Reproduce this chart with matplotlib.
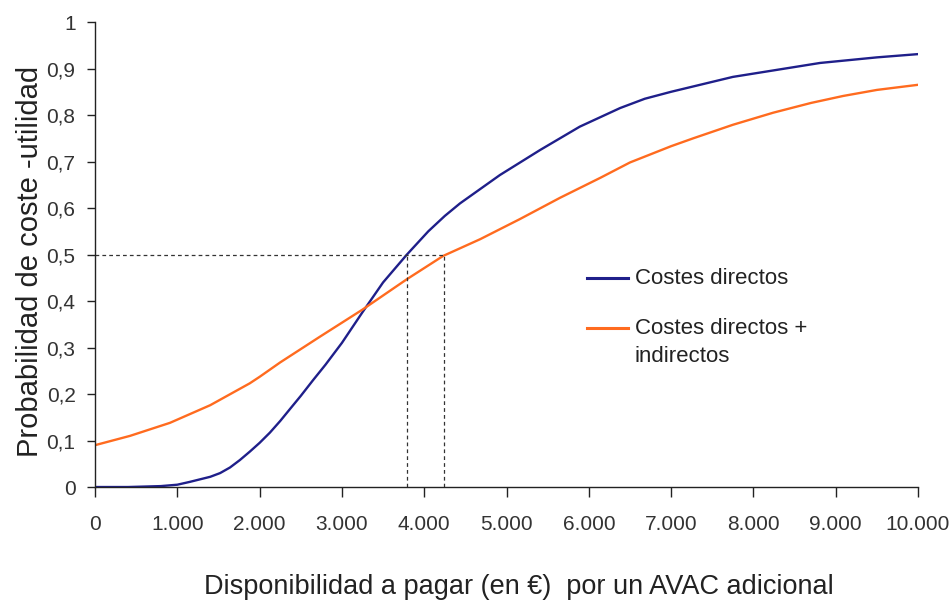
import matplotlib.pyplot as plt
from matplotlib.ticker import FuncFormatter

plt.rcParams['font.family'] = ['Liberation Sans', 'DejaVu Sans']

# Willingness to pay (EUR) and probability of being cost-effective
wtp_direct = [0, 400, 800, 1000, 1150, 1400, 1520, 1640, 1760, 1880, 2000, 2125, 2250,
              2370, 2500, 2650, 2800, 3000, 3250, 3500, 3790, 4050, 4250, 4435, 4920, 5410,
              5890, 6380, 6680, 7000, 7750, 8810, 9500, 10000]
prob_direct = [0.0, 0.0, 0.002, 0.005, 0.011, 0.022, 0.03, 0.042, 0.058, 0.076, 0.095, 0.117, 0.142,
               0.168, 0.196, 0.23, 0.263, 0.31, 0.376, 0.44, 0.50, 0.55, 0.583, 0.61, 0.671, 0.725,
               0.775, 0.815, 0.835, 0.85, 0.882, 0.912, 0.924, 0.931]

wtp_total = [0, 425, 910, 1400, 1880, 2000, 2250, 2730, 3245, 3790, 4230, 4680, 5160,
             5650, 6140, 6500, 7000, 7270, 7750, 8240, 8700, 9090, 9500, 10000]
prob_total = [0.09, 0.11, 0.138, 0.176, 0.223, 0.237, 0.268, 0.323, 0.381, 0.447, 0.497, 0.533, 0.576,
              0.622, 0.665, 0.698, 0.733, 0.75, 0.779, 0.805, 0.826, 0.841, 0.854, 0.865]

# thresholds where each curve reaches 0.5
thr_direct = 3790
thr_total = 4240
thr_prob = 0.5

labels = ['Costes directos', 'Costes directos +', 'indirectos']
colors = ['#1f1f8a', '#ff6b1f']

fig = plt.figure(figsize=(9.53, 6.12), dpi=100)
ax = fig.add_axes([0.0997, 0.2042, 0.8636, 0.7598])

ax.plot(wtp_direct, prob_direct, color=colors[0], lw=1.7)
ax.plot(wtp_total, prob_total, color=colors[1], lw=1.7)

# dashed guide lines at probability 0.5
dash = dict(color='#333333', lw=0.9, ls=(0, (3, 2.5)))
ax.plot([0, thr_total], [thr_prob, thr_prob], **dash)
ax.plot([thr_direct, thr_direct], [0, thr_prob], **dash)
ax.plot([thr_total, thr_total], [0, thr_prob], **dash)

ax.set_xlim(0, 10000)
ax.set_ylim(0, 1)
ax.set_xticks(range(0, 10001, 1000))
ax.set_yticks([i / 10 for i in range(11)])
ax.xaxis.set_major_formatter(FuncFormatter(lambda v, p: f'{int(v):,}'.replace(',', '.')))
ax.yaxis.set_major_formatter(FuncFormatter(lambda v, p: '0' if v == 0 else ('1' if v == 1 else f'{v:.1f}'.replace('.', ','))))

for s in ['top', 'right']:
    ax.spines[s].set_visible(False)
for s in ['left', 'bottom']:
    ax.spines[s].set_color('#222222')
    ax.spines[s].set_linewidth(1.0)

ax.tick_params(axis='x', length=7, width=1, color='#222222', pad=13, labelsize=15, labelcolor='#333333')
ax.tick_params(axis='y', length=6, width=1, color='#222222', pad=8, labelsize=15, labelcolor='#333333')

ax.set_xlabel('Disponibilidad a pagar (en €)  por un AVAC adicional', fontsize=19.5, color='#222222')
ax.xaxis.set_label_coords(0.515, -0.188)
ax.set_ylabel('Probabilidad de coste -utilidad', fontsize=21, color='#222222')
ax.yaxis.set_label_coords(-0.062, 0.486)

# legend drawn by hand so the orange key sits on the first text line
ax.plot([0.598, 0.648], [0.449, 0.449], transform=ax.transAxes, color=colors[0], lw=2.2)
ax.plot([0.598, 0.648], [0.342, 0.342], transform=ax.transAxes, color=colors[1], lw=2.2)
ax.text(0.656, 0.449, labels[0], transform=ax.transAxes, va='center', fontsize=16, color='#222222')
ax.text(0.656, 0.342, labels[1], transform=ax.transAxes, va='center', fontsize=16, color='#222222')
ax.text(0.656, 0.281, labels[2], transform=ax.transAxes, va='center', fontsize=16, color='#222222')

fig.savefig('out.png', dpi=100)
